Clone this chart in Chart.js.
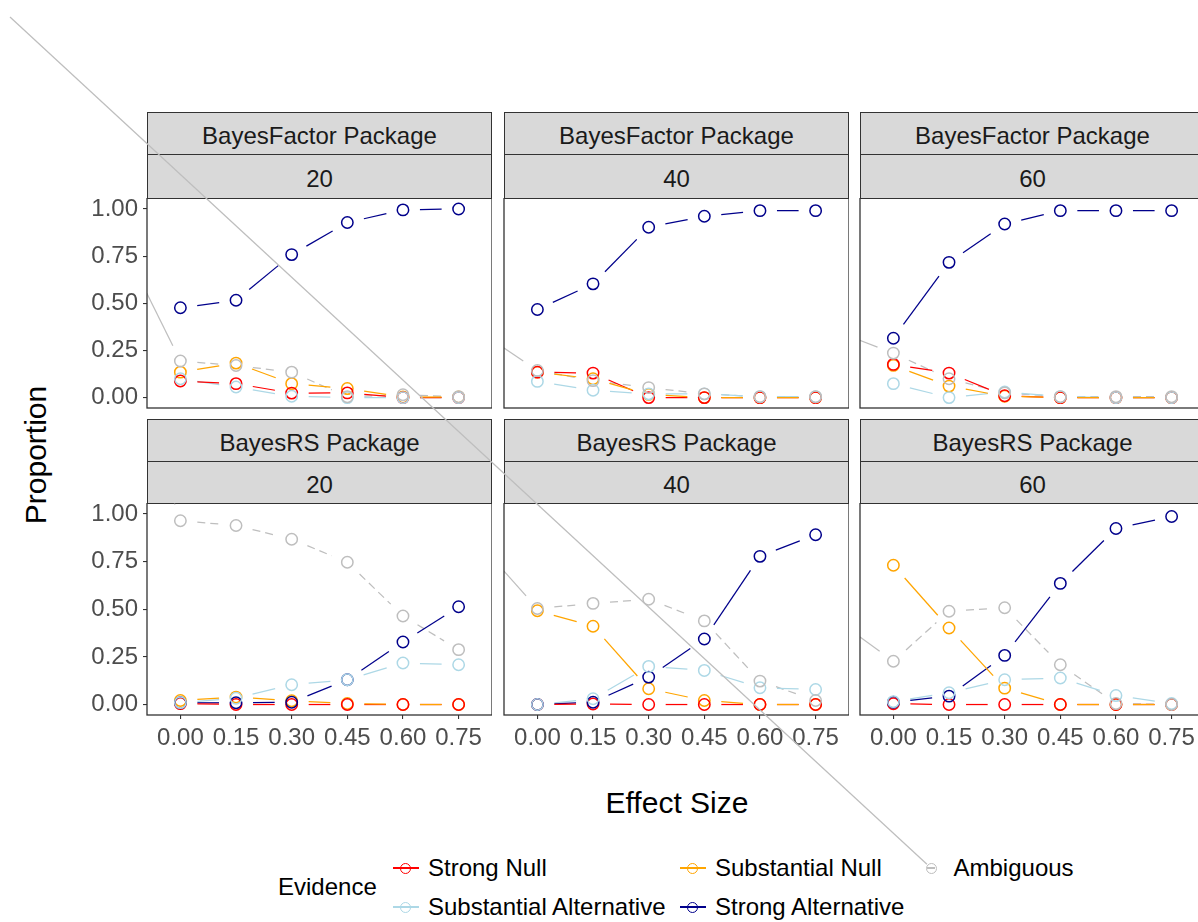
<!DOCTYPE html>
<html>
<head>
<meta charset="utf-8">
<title>Evidence by effect size</title>
<script src="https://cdn.jsdelivr.net/npm/chart.js@4.4.1/dist/chart.umd.min.js"></script>
<style>
  html, body { margin: 0; padding: 0; background: #fff; }
  #page { position: relative; width: 1198px; height: 922px; overflow: hidden; background: #fff;
          font-family: "Liberation Sans", Arial, Helvetica, sans-serif; }
  .strip { position: absolute; box-sizing: border-box; background: #D9D9D9; border: 1px solid #333;
           color: #1A1A1A; font-size: 24px; display: flex; align-items: center; justify-content: center;
           white-space: nowrap; padding-top: 5px; }
  canvas.panel { position: absolute; }
  .title { position: absolute; transform: translate(-50%, -50%); color: #000; font-size: 30px; white-space: nowrap; }
  .legend-text { position: absolute; transform: translateY(-50%); color: #000; font-size: 24px; white-space: nowrap; }
  .key { position: absolute; width: 30px; height: 16px; transform: translate(-50%, -50%); }
  .key .ln { position: absolute; left: 2px; right: 2px; top: 7.4px; height: 1.3px; }
  .key .pt { position: absolute; left: 9.5px; top: 2.5px; width: 11px; height: 11px; box-sizing: border-box;
             border-radius: 50%; border: 1.3px solid; background: transparent; }
  #overlay { position: absolute; left: 0; top: 0; pointer-events: none; z-index: 10; }
</style>
</head>
<body>
<div id="page"></div>
<script>
// ---- data -------------------------------------------------------------
const effectSizes = [0, 0.15, 0.30, 0.45, 0.60, 0.75];
const xTickLabels = ['0.00', '0.15', '0.30', '0.45', '0.60', '0.75'];
const yTickValues = [0, 0.25, 0.50, 0.75, 1.00];
const yTickLabels = ['0.00', '0.25', '0.50', '0.75', '1.00'];
const packageNames = ['BayesFactor Package', 'BayesRS Package'];
const sampleSizes = ['20', '40', '60'];

// legend order (column-wise, two rows)
const evidenceNames = ['Strong Null', 'Substantial Alternative', 'Substantial Null', 'Strong Alternative', 'Ambiguous'];
const evidenceColors = ['#FF0000', '#ADD8E6', '#FFA500', '#00008B', '#BEBEBE'];

// proportions per effect size — BayesFactor package
const bf20StrongNull = [0.088, 0.074, 0.024, 0.025, 0.000, 0.000];
const bf20SubstNull  = [0.135, 0.183, 0.074, 0.048, 0.003, 0.003];
const bf20Ambiguous  = [0.194, 0.170, 0.135, 0.005, 0.015, 0.005];
const bf20SubstAlt   = [0.100, 0.056, 0.007, 0.000, 0.000, 0.000];
const bf20StrongAlt  = [0.476, 0.516, 0.758, 0.928, 0.995, 1.000];

const bf40StrongNull = [0.135, 0.130, 0.000, 0.000, 0.000, 0.000];
const bf40SubstNull  = [0.135, 0.100, 0.017, 0.000, 0.000, 0.000];
const bf40Ambiguous  = [0.144, 0.090, 0.053, 0.020, 0.005, 0.005];
const bf40SubstAlt   = [0.086, 0.039, 0.020, 0.020, 0.005, 0.005];
const bf40StrongAlt  = [0.467, 0.603, 0.903, 0.961, 0.991, 0.991];

const bf60StrongNull = [0.176, 0.130, 0.010, 0.000, 0.000, 0.000];
const bf60SubstNull  = [0.171, 0.061, 0.007, 0.000, 0.000, 0.000];
const bf60Ambiguous  = [0.236, 0.100, 0.025, 0.005, 0.005, 0.005];
const bf60SubstAlt   = [0.074, 0.000, 0.030, 0.005, 0.000, 0.000];
const bf60StrongAlt  = [0.315, 0.717, 0.920, 0.991, 0.991, 0.991];

// proportions per effect size — BayesRS package
const rs20StrongNull = [0.005, 0.000, 0.000, 0.000, 0.000, 0.000];
const rs20SubstNull  = [0.021, 0.039, 0.020, 0.005, 0.000, 0.000];
const rs20Ambiguous  = [0.965, 0.940, 0.868, 0.747, 0.465, 0.288];
const rs20SubstAlt   = [0.010, 0.033, 0.104, 0.130, 0.218, 0.209];
const rs20StrongAlt  = [0.009, 0.009, 0.012, 0.130, 0.328, 0.513];

const rs40StrongNull = [0.000, 0.003, 0.000, 0.000, 0.000, 0.000];
const rs40SubstNull  = [0.492, 0.411, 0.083, 0.021, 0.000, 0.000];
const rs40Ambiguous  = [0.504, 0.531, 0.553, 0.439, 0.123, 0.021];
const rs40SubstAlt   = [0.000, 0.030, 0.200, 0.179, 0.088, 0.079];
const rs40StrongAlt  = [0.000, 0.012, 0.144, 0.344, 0.778, 0.891];

const rs60StrongNull = [0.004, 0.000, 0.000, 0.000, 0.000, 0.000];
const rs60SubstNull  = [0.731, 0.402, 0.086, 0.000, 0.000, 0.000];
const rs60Ambiguous  = [0.227, 0.490, 0.508, 0.209, 0.005, 0.000];
const rs60SubstAlt   = [0.015, 0.062, 0.130, 0.139, 0.047, 0.005];
const rs60StrongAlt  = [0.012, 0.044, 0.258, 0.636, 0.924, 0.987];

const panelSeries = [
  [ // BayesFactor
    { 'Strong Null': bf20StrongNull, 'Substantial Null': bf20SubstNull, 'Ambiguous': bf20Ambiguous, 'Substantial Alternative': bf20SubstAlt, 'Strong Alternative': bf20StrongAlt },
    { 'Strong Null': bf40StrongNull, 'Substantial Null': bf40SubstNull, 'Ambiguous': bf40Ambiguous, 'Substantial Alternative': bf40SubstAlt, 'Strong Alternative': bf40StrongAlt },
    { 'Strong Null': bf60StrongNull, 'Substantial Null': bf60SubstNull, 'Ambiguous': bf60Ambiguous, 'Substantial Alternative': bf60SubstAlt, 'Strong Alternative': bf60StrongAlt }
  ],
  [ // BayesRS
    { 'Strong Null': rs20StrongNull, 'Substantial Null': rs20SubstNull, 'Ambiguous': rs20Ambiguous, 'Substantial Alternative': rs20SubstAlt, 'Strong Alternative': rs20StrongAlt },
    { 'Strong Null': rs40StrongNull, 'Substantial Null': rs40SubstNull, 'Ambiguous': rs40Ambiguous, 'Substantial Alternative': rs40SubstAlt, 'Strong Alternative': rs40StrongAlt },
    { 'Strong Null': rs60StrongNull, 'Substantial Null': rs60SubstNull, 'Ambiguous': rs60Ambiguous, 'Substantial Alternative': rs60SubstAlt, 'Strong Alternative': rs60StrongAlt }
  ]
];

// ---- layout -----------------------------------------------------------
const FONT = '"Liberation Sans", Arial, Helvetica, sans-serif';
const PANEL_LEFT = [147, 504, 860];
const PANEL_W = 345;
const PLOT_TOP = [198, 503];
const PLOT_H = [210, 212];
const STRIP_TOP = [112, 419];
const Y_AXIS_W = 70;
const X_AXIS_H = 50;
const GAP = 17;                    // space left between a path and its points
const STRAY_ORIGIN = { x: 10, y: 17 }; // where the stray Ambiguous path begins (page px)
const drawOrder = ['Ambiguous', 'Substantial Alternative', 'Strong Alternative', 'Strong Null', 'Substantial Null'];

Chart.defaults.font.family = FONT;

const page = document.getElementById('page');

function colorOf(name) { return evidenceColors[evidenceNames.indexOf(name)]; }

function addDiv(cls, text, css) {
  const d = document.createElement('div');
  d.className = cls;
  if (text !== null) d.textContent = text;
  Object.assign(d.style, css);
  page.appendChild(d);
  return d;
}

// paths between points, stopping short of each point
const pointPathPlugin = {
  id: 'pointPath',
  beforeDatasetsDraw(chart) {
    const ctx = chart.ctx, a = chart.chartArea;
    const off = chart.options.plugins.pointPath.offset;
    ctx.save();
    ctx.beginPath();
    ctx.rect(a.left, a.top, a.right - a.left, a.bottom - a.top);
    ctx.clip();
    ctx.lineWidth = 1.25;
    ctx.lineCap = 'butt';
    chart.data.datasets.forEach((ds, i) => {
      const pts = chart.getDatasetMeta(i).data;
      ctx.strokeStyle = ds.borderColor;
      for (let k = 1; k < pts.length; k++) {
        const p0 = pts[k - 1], p1 = pts[k];
        const dx = p1.x - p0.x, dy = p1.y - p0.y, len = Math.hypot(dx, dy);
        if (len <= 2 * GAP) continue;
        const ux = dx / len, uy = dy / len;
        ctx.setLineDash(ds.pathDash || []);
        ctx.beginPath();
        ctx.moveTo(p0.x + ux * GAP, p0.y + uy * GAP);
        ctx.lineTo(p1.x - ux * GAP, p1.y - uy * GAP);
        ctx.stroke();
      }
      if (ds.stray) {
        const ox = STRAY_ORIGIN.x - off.left, oy = STRAY_ORIGIN.y - off.top;
        const p = pts[0];
        const dx = p.x - ox, dy = p.y - oy, len = Math.hypot(dx, dy);
        ctx.setLineDash([]);
        ctx.beginPath();
        ctx.moveTo(ox, oy);
        ctx.lineTo(p.x - dx / len * GAP, p.y - dy / len * GAP);
        ctx.stroke();
      }
    });
    ctx.restore();
  },
  afterDraw(chart) {
    const ctx = chart.ctx, a = chart.chartArea;
    ctx.save();
    ctx.strokeStyle = '#333333';
    ctx.lineWidth = 1.3;
    ctx.strokeRect(a.left, a.top, a.right - a.left, a.bottom - a.top);
    ctx.restore();
  }
};

for (let r = 0; r < 2; r++) {
  for (let c = 0; c < 3; c++) {
    const left = PANEL_LEFT[c];
    // strips
    addDiv('strip', packageNames[r], { left: left + 'px', top: STRIP_TOP[r] + 'px', width: PANEL_W + 'px', height: '43px' });
    addDiv('strip', sampleSizes[c], { left: left + 'px', top: (STRIP_TOP[r] + 42) + 'px', width: PANEL_W + 'px', height: (PLOT_TOP[r] - STRIP_TOP[r] - 41) + 'px' });

    const canvas = document.createElement('canvas');
    canvas.className = 'panel';
    const cw = PANEL_W + Y_AXIS_W, ch = PLOT_H[r] + X_AXIS_H;
    canvas.width = cw; canvas.height = ch;
    const offset = { left: left - Y_AXIS_W, top: PLOT_TOP[r] };
    Object.assign(canvas.style, { left: offset.left + 'px', top: offset.top + 'px', width: cw + 'px', height: ch + 'px' });
    page.appendChild(canvas);

    const series = panelSeries[r][c];
    const datasets = drawOrder.map(name => ({
      label: name,
      data: effectSizes.map((x, i) => ({ x, y: series[name][i] })),
      borderColor: colorOf(name),
      backgroundColor: 'rgba(0,0,0,0)',
      showLine: false,
      pointRadius: 5.7,
      pointBorderWidth: 1.5,
      pointHoverRadius: 5.7,
      pathDash: name === 'Ambiguous' ? [8, 5] : null,
      stray: name === 'Ambiguous'
    }));

    const showX = r === 1, showY = c === 0;
    new Chart(canvas, {
      type: 'scatter',
      data: { datasets },
      options: {
        responsive: false,
        animation: false,
        devicePixelRatio: 1,
        events: [],
        layout: { padding: 0, autoPadding: false },
        plugins: { legend: { display: false }, tooltip: { enabled: false }, pointPath: { offset } },
        scales: {
          x: {
            type: 'linear', min: -0.09, max: 0.84,
            afterBuildTicks: s => { s.ticks = effectSizes.map(v => ({ value: v })); },
            afterFit: s => { s.height = X_AXIS_H; s.paddingLeft = 0; s.paddingRight = 0; },
            border: { display: false },
            grid: { display: showX, drawOnChartArea: false, drawTicks: true, tickLength: 4, color: '#333333', lineWidth: 1.1 },
            ticks: { display: showX, padding: 5, color: '#4D4D4D', font: { size: 24 }, maxRotation: 0, autoSkip: false,
                     callback: (v, i) => xTickLabels[i] }
          },
          y: {
            type: 'linear', min: -0.055, max: 1.058,
            afterBuildTicks: s => { s.ticks = yTickValues.map(v => ({ value: v })); },
            afterFit: s => { s.width = Y_AXIS_W; s.paddingTop = 0; s.paddingBottom = 0; },
            border: { display: false },
            grid: { display: showY, drawOnChartArea: false, drawTicks: true, tickLength: 4, color: '#333333', lineWidth: 1.1 },
            ticks: { display: showY, padding: 5, color: '#4D4D4D', font: { size: 24 }, autoSkip: false,
                     callback: (v, i) => yTickLabels[i] }
          }
        }
      },
      plugins: [pointPathPlugin]
    });
  }
}

// axis titles
addDiv('title', 'Effect Size', { left: '677px', top: '803px' });
const yTitle = addDiv('title', 'Proportion', { left: '36px', top: '455px' });
yTitle.style.transform = 'translate(-50%, -50%) rotate(-90deg)';

// legend
addDiv('legend-text', 'Evidence', { left: '278px', top: '887px' });
const legendCols = [405.5, 692.5, 931];
const legendRows = [868, 907];
const keyEls = {};
evidenceNames.forEach((name, i) => {
  const col = Math.floor(i / 2), row = i % 2;
  const cx = legendCols[col], cy = legendRows[row];
  const key = addDiv('key', null, { left: cx + 'px', top: cy + 'px' });
  const ln = document.createElement('div');
  ln.className = 'ln';
  ln.style.background = evidenceColors[i];
  if (name === 'Ambiguous') { ln.style.left = '11px'; ln.style.right = '11px'; }
  key.appendChild(ln);
  const pt = document.createElement('div');
  pt.className = 'pt';
  pt.style.borderColor = evidenceColors[i];
  key.appendChild(pt);
  keyEls[name] = { cx, cy };
  addDiv('legend-text', name, { left: (cx + 22.5) + 'px', top: cy + 'px' });
});

// the Ambiguous legend key's stray path, drawn across the whole figure
const overlay = document.createElement('canvas');
overlay.id = 'overlay';
overlay.width = 1198; overlay.height = 922;
page.appendChild(overlay);
(function () {
  const ctx = overlay.getContext('2d');
  const k = keyEls['Ambiguous'];
  const dx = k.cx - STRAY_ORIGIN.x, dy = k.cy - STRAY_ORIGIN.y, len = Math.hypot(dx, dy);
  ctx.strokeStyle = colorOf('Ambiguous');
  ctx.lineWidth = 1.25;
  ctx.beginPath();
  ctx.moveTo(STRAY_ORIGIN.x, STRAY_ORIGIN.y);
  ctx.lineTo(k.cx - dx / len * 5.5, k.cy - dy / len * 5.5);
  ctx.stroke();
})();
</script>
</body>
</html>
